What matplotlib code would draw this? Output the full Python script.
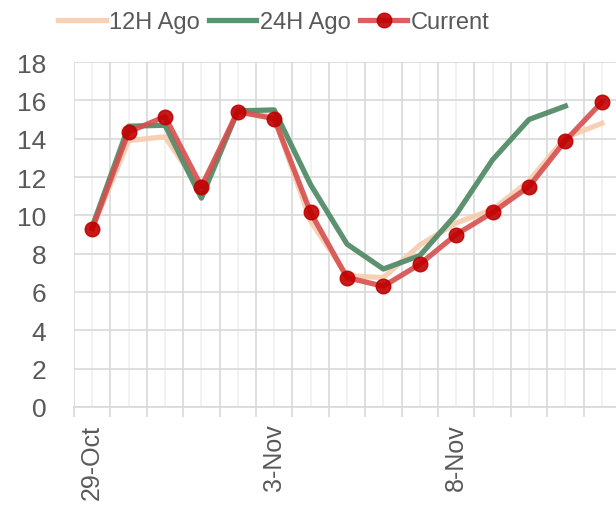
import matplotlib.pyplot as plt
import numpy as np

plt.rcParams['font.family'] = ['Liberation Sans', 'DejaVu Sans']

days = ['29-Oct', '30-Oct', '31-Oct', '1-Nov', '2-Nov', '3-Nov', '4-Nov', '5-Nov',
        '6-Nov', '7-Nov', '8-Nov', '9-Nov', '10-Nov', '11-Nov', '12-Nov']
ago12 = [9.3, 13.9, 14.1, 11.3, 15.5, 15.1, 9.7, 6.85, 6.75, 8.45, 9.6, 10.3, 11.8, 14.05, 14.8]
ago24 = [9.4, 14.65, 14.7, 10.9, 15.45, 15.5, 11.6, 8.5, 7.2, 7.9, 10.05, 12.9, 15.0, 15.7]
current = [9.3, 14.35, 15.15, 11.5, 15.4, 15.05, 10.15, 6.75, 6.3, 7.45, 9.0, 10.15, 11.5, 13.9, 15.9]

x = np.arange(len(days))

fig = plt.figure(figsize=(6.16, 5.06), dpi=100)
ax = fig.add_axes([74/616, 98/506, 546/616, 345/506])

ax.plot(x, ago12, color='#F8CBAD', lw=3.8, alpha=0.9, label='12H Ago')
ax.plot(x[:len(ago24)], ago24, color='#548C69', lw=3.8, alpha=0.95, label='24H Ago')
ax.plot(x, current, color='#D64F4F', lw=3.8, alpha=0.9, marker='o', markersize=10.5,
        markerfacecolor='#C00000', markeredgecolor='#C00000', label='Current')

ax.set_xlim(-0.5, len(days) - 0.5)
ax.set_ylim(0, 18)
ax.set_yticks(np.arange(0, 19, 2))

ax.set_xticks(x)
ax.set_xticklabels([d if i % 5 == 0 else '' for i, d in enumerate(days)], rotation=90)
ax.set_xticks(np.arange(-0.5, len(days)), minor=True)
ax.tick_params(axis='x', which='major', length=0, pad=12, labelsize=18)
ax.tick_params(axis='x', which='minor', length=7, color='#D9D9D9', width=1.2)
ax.tick_params(axis='y', length=0, pad=20, labelsize=19)
ax.tick_params(labelcolor='#595959')

ax.grid(True, which='major', axis='x', color='#F0F0F0', lw=1.2)
ax.grid(True, which='minor', axis='x', color='#D9D9D9', lw=1.2)
ax.grid(True, which='major', axis='y', color='#D9D9D9', lw=1.2)
ax.set_axisbelow(True)

for s in ['top', 'right', 'left']:
    ax.spines[s].set_visible(False)
ax.spines['bottom'].set_color('#D9D9D9')
ax.spines['bottom'].set_linewidth(1.2)

fig.legend(loc='center', bbox_to_anchor=(274/616, 1 - 23/506), ncol=3, frameon=False,
           fontsize=17, labelcolor='#595959', handlelength=2.0, handletextpad=0.15,
           columnspacing=0.4, borderpad=0)

fig.savefig('out.png', dpi=100)
